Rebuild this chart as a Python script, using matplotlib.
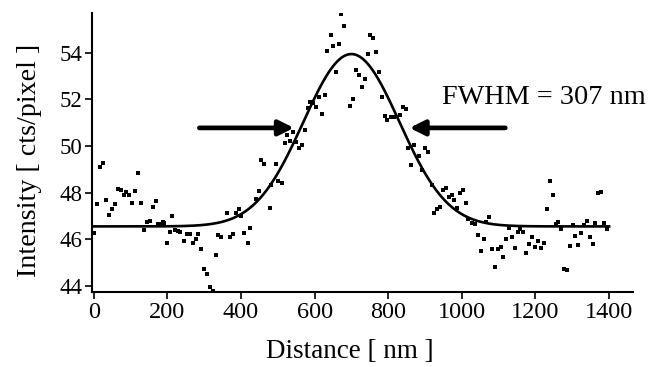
import numpy as np
import matplotlib
matplotlib.use('Agg')
import matplotlib.pyplot as plt

plt.rcParams['font.family'] = 'Liberation Serif'

# measured profile (nm, cts/pixel)
distance = [2, 10, 18, 26, 33, 41, 50, 59, 65, 73, 81, 89, 97, 105, 113, 121, 128, 136, 144, 152,
            160, 168, 175, 181, 187, 192, 199, 208, 214, 222, 228, 235, 245, 254, 262, 269, 277, 284, 292, 300,
            309, 316, 324, 332, 339, 347, 363, 371, 378, 386, 394, 401, 409, 418, 425, 440, 448, 455, 463, 478,
            482, 494, 501, 511, 519, 526, 533, 541, 549, 558, 565, 573, 581, 588, 596, 604, 612, 620, 627, 635,
            644, 651, 658, 666, 673, 681, 696, 704, 713, 720, 728, 736, 744, 750, 758, 768, 775, 784, 791, 798,
            807, 815, 832, 839, 847, 854, 861, 870, 884, 892, 900, 909, 918, 924, 932, 940, 948, 956, 964, 972,
            979, 988, 995, 1003, 1011, 1018, 1027, 1035, 1044, 1051, 1060, 1066, 1074, 1082, 1090, 1097, 1105, 1112, 1121, 1129,
            1136, 1144, 1152, 1159, 1167, 1175, 1183, 1191, 1199, 1206, 1214, 1222, 1231, 1239, 1247, 1255, 1262, 1270, 1277, 1285,
            1294, 1301, 1308, 1316, 1324, 1331, 1339, 1347, 1355, 1362, 1370, 1378, 1386, 1395]
intensity = [46.26, 47.51, 49.11, 49.27, 47.68, 47.06, 47.28, 47.51, 48.16, 48.11, 47.89, 48.01, 47.89, 47.56, 48.06, 48.84, 47.56, 46.39, 46.73, 46.79,
             47.39, 47.62, 46.65, 46.65, 46.73, 46.70, 45.85, 46.32, 46.99, 46.39, 46.35, 46.29, 45.93, 46.22, 46.22, 45.82, 45.99, 46.22, 45.56, 44.70,
             44.50, 43.96, 43.79, 45.32, 46.16, 46.09, 47.11, 46.09, 46.22, 47.11, 47.30, 46.99, 46.27, 45.82, 46.48, 47.71, 48.09, 49.38, 49.24, 47.32,
             48.32, 49.21, 48.48, 48.42, 50.11, 50.48, 50.22, 50.60, 50.17, 49.91, 50.03, 50.68, 51.64, 51.91, 51.83, 51.68, 52.09, 51.37, 52.20, 54.07,
             54.76, 54.29, 53.17, 54.40, 55.69, 55.15, 51.74, 52.03, 53.26, 53.03, 52.52, 52.88, 53.97, 54.75, 54.63, 54.03, 53.18, 52.11, 51.31, 51.14,
             51.23, 51.23, 51.33, 51.68, 51.57, 49.91, 49.20, 50.04, 49.59, 48.99, 49.91, 49.75, 48.32, 47.12, 47.28, 47.39, 48.11, 48.18, 47.82, 47.89,
             47.68, 47.32, 47.97, 48.11, 47.54, 46.85, 46.68, 46.65, 46.18, 45.48, 45.99, 46.76, 46.96, 45.59, 44.82, 45.59, 45.65, 45.24, 46.03, 46.48,
             46.08, 45.63, 46.30, 46.42, 46.32, 45.42, 45.79, 46.08, 45.67, 45.91, 45.62, 45.85, 47.29, 48.52, 47.91, 46.65, 46.76, 46.45, 44.74, 44.66,
             45.69, 46.59, 46.13, 45.75, 46.25, 46.59, 46.79, 46.08, 45.79, 46.70, 47.97, 48.02, 46.70, 46.45]

# gaussian fit
baseline = 46.55
amplitude = 7.4
center = 700
fwhm = 307

xfit = np.linspace(0, 1400, 400)
sigma = fwhm / (2 * np.sqrt(2 * np.log(2)))
yfit = baseline + amplitude * np.exp(-(xfit - center) ** 2 / (2 * sigma ** 2))

fig = plt.figure(figsize=(6.56, 3.67), dpi=100)
ax = fig.add_axes([0.140, 0.2035, 0.825, 0.7615])

ax.plot(distance, intensity, 's', color='black', markersize=2.2, markeredgewidth=0)
ax.plot(xfit, yfit, color='black', linewidth=1.9)

# FWHM arrows
arrow_y = 50.78
ax.annotate('', xy=(544, arrow_y), xytext=(287, arrow_y),
            arrowprops=dict(arrowstyle='-|>,head_length=0.9,head_width=0.45', color='black', lw=3.4,
                            shrinkA=0, shrinkB=0))
ax.annotate('', xy=(858, arrow_y), xytext=(1118, arrow_y),
            arrowprops=dict(arrowstyle='-|>,head_length=0.9,head_width=0.45', color='black', lw=3.4,
                            shrinkA=0, shrinkB=0))
ax.text(947, 52.1, 'FWHM = 307 nm', fontsize=20.3, va='center', ha='left')

ax.set_xlim(-5, 1465)
ax.set_ylim(43.72, 55.72)
ax.set_xticks(np.arange(0, 1401, 200))
ax.set_yticks(np.arange(44, 55, 2))
ax.spines['top'].set_visible(False)
ax.spines['right'].set_visible(False)
ax.spines['left'].set_linewidth(1.5)
ax.spines['bottom'].set_linewidth(1.5)
ax.tick_params(direction='out', length=5, width=1.2, labelsize=16.5, pad=2)
ax.tick_params(axis='x', labelsize=17.5)

ax.set_xlabel('Distance [ nm ]', fontsize=19.5)
ax.set_ylabel('Intensity [ cts/pixel ]', fontsize=20.2)
ax.xaxis.set_label_coords(0.477, -0.168)
ax.yaxis.set_label_coords(-0.093, 0.473)

fig.savefig('out.png', dpi=100)
